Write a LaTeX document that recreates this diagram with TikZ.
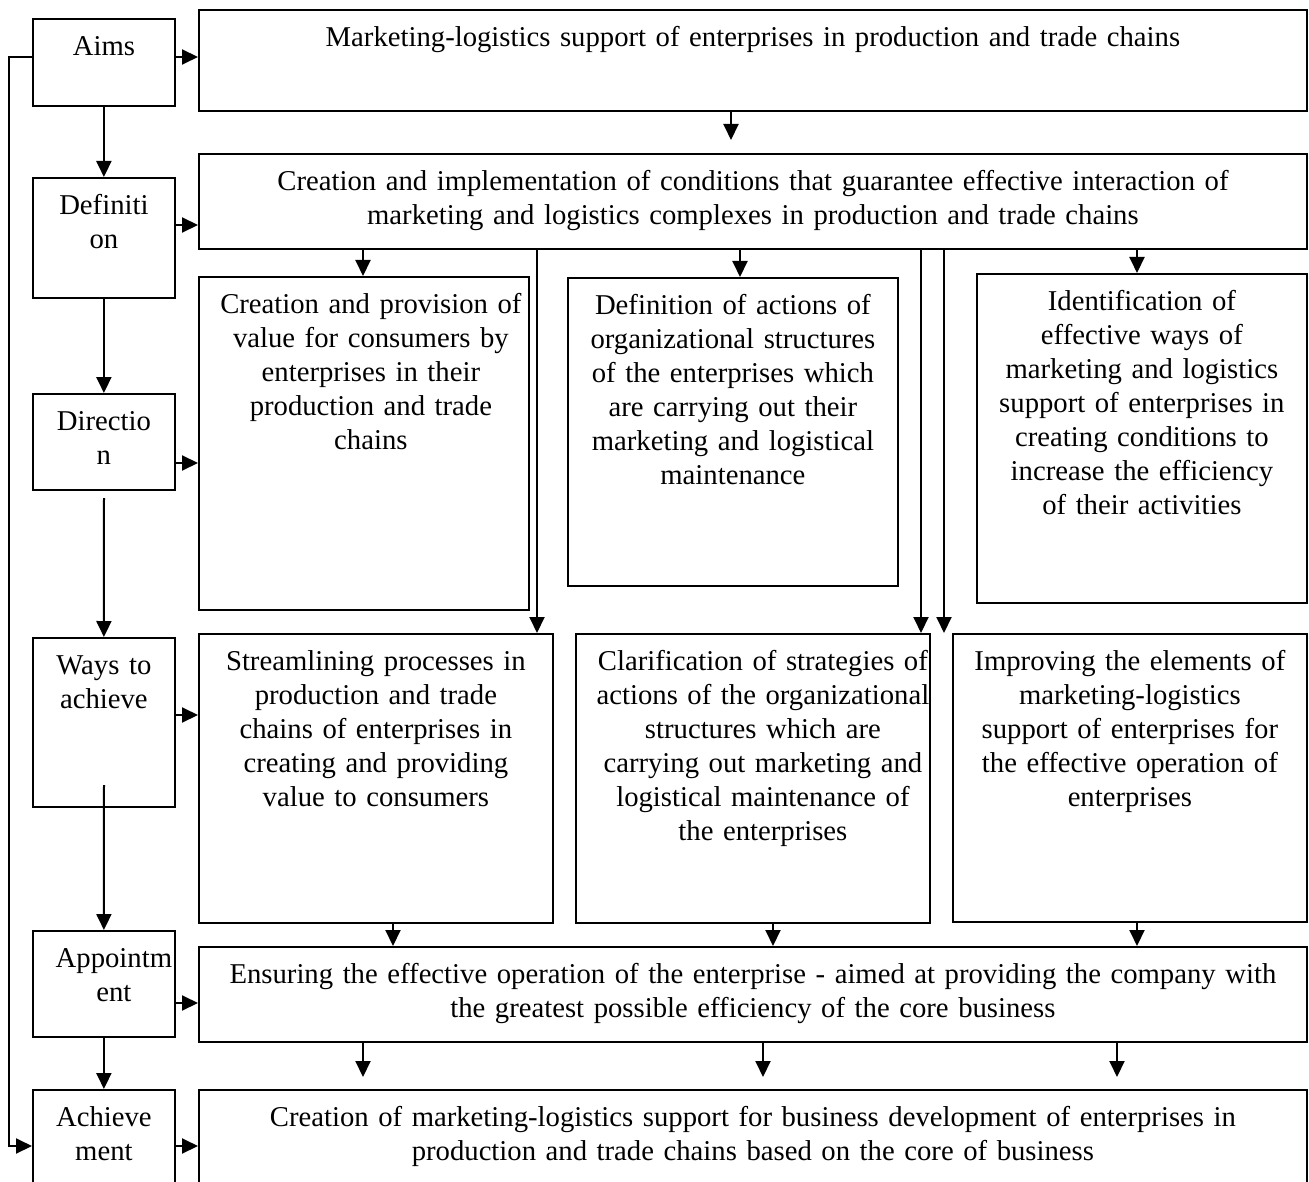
\documentclass[tikz,border=0pt]{standalone}
\usepackage{fontspec}
\setmainfont{Liberation Serif}
\usetikzlibrary{arrows.meta}
\begin{document}
\begin{tikzpicture}[x=1pt,y=-1pt,
  box/.style={draw, line width=1.8pt, inner sep=0pt, anchor=north west},
  txt/.style={inner sep=0pt, anchor=north, align=center, text width=#1,
    font=\fontsize{28.7}{34}\selectfont},
  txt/.default=400pt,
  arr/.style={line width=2pt, -{Triangle[length=16pt,width=15pt]}},
  ln/.style={line width=2pt}]
\useasboundingbox (0,0) rectangle (1309,1182);
\clip (0,0) rectangle (1309,1182);
% left column
\node[box, minimum width=142pt, minimum height=87pt] (Aims) at (32,18) {};
\node[box, minimum width=142pt, minimum height=120pt] (Def) at (32,177) {};
\node[box, minimum width=142pt, minimum height=96pt] (Dir) at (32,393) {};
\node[box, minimum width=142pt, minimum height=169pt] (Ways) at (32,637) {};
\node[box, minimum width=142pt, minimum height=106pt] (Appt) at (32,930) {};
\node[box, minimum width=142pt, minimum height=98pt] (Ach) at (32,1089) {};
\node[txt=200pt] (tAims) at ([yshift=-13.2pt]Aims.north) {\strut Aims};
\node[txt=200pt] (tDef) at ([yshift=-13.2pt]Def.north) {\strut Definiti\\on};
\node[txt=200pt] (tDir) at ([yshift=-13.2pt]Dir.north) {\strut Directio\\n};
\node[txt=200pt] (tWays) at ([yshift=-13.2pt]Ways.north) {\strut Ways to\\achieve};
\node[txt=200pt] (tAppt) at ([xshift=10pt,yshift=-13.2pt]Appt.north) {\strut Appointm\\ent};
\node[txt=200pt] (tAch) at ([yshift=-13.2pt]Ach.north) {\strut Achieve\\ment};
% right boxes
\node[box, minimum width=1108pt, minimum height=101pt] (T) at (198,9) {};
\node[box, minimum width=1108pt, minimum height=95pt] (D) at (198,153) {};
\node[box, minimum width=330pt, minimum height=333pt] (C1) at (198,276) {};
\node[box, minimum width=330pt, minimum height=308pt] (C2) at (567,277) {};
\node[box, minimum width=330pt, minimum height=329pt] (C3) at (976,273) {};
\node[box, minimum width=354pt, minimum height=289pt] (W1) at (198,633) {};
\node[box, minimum width=354pt, minimum height=289pt] (W2) at (575,633) {};
\node[box, minimum width=354pt, minimum height=288pt] (W3) at (952,633) {};
\node[box, minimum width=1108pt, minimum height=95pt] (P) at (198,946) {};
\node[box, minimum width=1108pt, minimum height=98pt] (A) at (198,1089) {};
% texts
\node[txt=1200pt] (tT) at ([yshift=-13.2pt]T.north) {\strut Marketing-logistics support of enterprises in production and trade chains};
\node[txt=1200pt] (tD) at ([yshift=-13.2pt]D.north) {\strut Creation and implementation of conditions that guarantee effective interaction of\\marketing and logistics complexes in production and trade chains};
\node[txt=380pt] (tC1) at ([xshift=7pt,yshift=-13.2pt]C1.north) {\strut Creation and provision of\\value for consumers by\\enterprises in their\\production and trade\\chains};
\node[txt=380pt] (tC2) at ([yshift=-13.2pt]C2.north) {\strut Definition of actions of\\organizational structures\\of the enterprises which\\are carrying out their\\marketing and logistical\\maintenance};
\node[txt=380pt] (tC3) at ([yshift=-13.2pt]C3.north) {\strut Identification of\\effective ways of\\marketing and logistics\\support of enterprises in\\creating conditions to\\increase the efficiency\\of their activities};
\node[txt=400pt] (tW1) at ([yshift=-13.2pt]W1.north) {\strut Streamlining processes in\\production and trade\\chains of enterprises in\\creating and providing\\value to consumers};
\node[txt=400pt] (tW2) at ([xshift=10pt,yshift=-13.2pt]W2.north) {\strut Clarification of strategies of\\actions of the organizational\\structures which are\\carrying out marketing and\\logistical maintenance of\\the enterprises};
\node[txt=400pt] (tW3) at ([yshift=-13.2pt]W3.north) {\strut Improving the elements of\\marketing-logistics\\support of enterprises for\\the effective operation of\\enterprises};
\node[txt=1200pt] (tP) at ([yshift=-13.2pt]P.north) {\strut Ensuring the effective operation of the enterprise - aimed at providing the company with\\the greatest possible efficiency of the core business};
\node[txt=1200pt] (tA) at ([yshift=-13.2pt]A.north) {\strut Creation of marketing-logistics support for business development of enterprises in\\production and trade chains based on the core of business};
% left chain arrows
\draw[arr] (Aims.south) -- (Def.north);
\draw[arr] (Def.south) -- (Dir.north);
\coordinate (dirs) at (104,498);
\draw[arr] (dirs) -- (Ways.north);
\coordinate (ways) at (104,785);
\draw[arr] (ways) -- (Appt.north);
\draw[arr] (Appt.south) -- (Ach.north);
% left-to-right arrows
\draw[arr] (Aims.east |- 0,57) -- (T.west |- 0,57);
\draw[arr] (Def.east |- 0,225) -- (D.west |- 0,225);
\draw[arr] (Dir.east |- 0,463) -- (C1.west |- 0,463);
\draw[arr] (Ways.east |- 0,715) -- (W1.west |- 0,715);
\draw[arr] (Appt.east |- 0,1003) -- (P.west |- 0,1003);
\draw[arr] (Ach.east |- 0,1146) -- (A.west |- 0,1146);
% feedback
\coordinate (fb1) at (9,57);
\coordinate (fb2) at (9,1146);
\draw[arr] (Aims.west |- fb1) -- (fb1) -- (fb2) -- (Ach.west |- fb2);
% top to definition
\coordinate (tdend) at (731,140);
\draw[arr] (T.south -| tdend) -- (tdend);
% definition to columns
\draw[arr] (363,0 |- D.south) -- (363,0 |- C1.north);
\draw[arr] (740,0 |- D.south) -- (740,0 |- C2.north);
\draw[arr] (1137,0 |- D.south) -- (1137,0 |- C3.north);
\draw[arr] (537,0 |- D.south) -- (537,0 |- W1.north);
\draw[arr] (921,0 |- D.south) -- (921,0 |- W2.north);
\coordinate (w3in) at (944,633);
\draw[arr] (D.south -| w3in) -- (w3in);
% ways to appointment
\draw[arr] (393,0 |- W1.south) -- (393,0 |- P.north);
\draw[arr] (773,0 |- W2.south) -- (773,0 |- P.north);
\draw[arr] (1137,0 |- W3.south) -- (1137,0 |- P.north);
% appointment to achievement
\coordinate (pa1) at (363,1077);
\coordinate (pa2) at (763,1077);
\coordinate (pa3) at (1117,1077);
\draw[arr] (P.south -| pa1) -- (pa1);
\draw[arr] (P.south -| pa2) -- (pa2);
\draw[arr] (P.south -| pa3) -- (pa3);
\end{tikzpicture}
\end{document}
